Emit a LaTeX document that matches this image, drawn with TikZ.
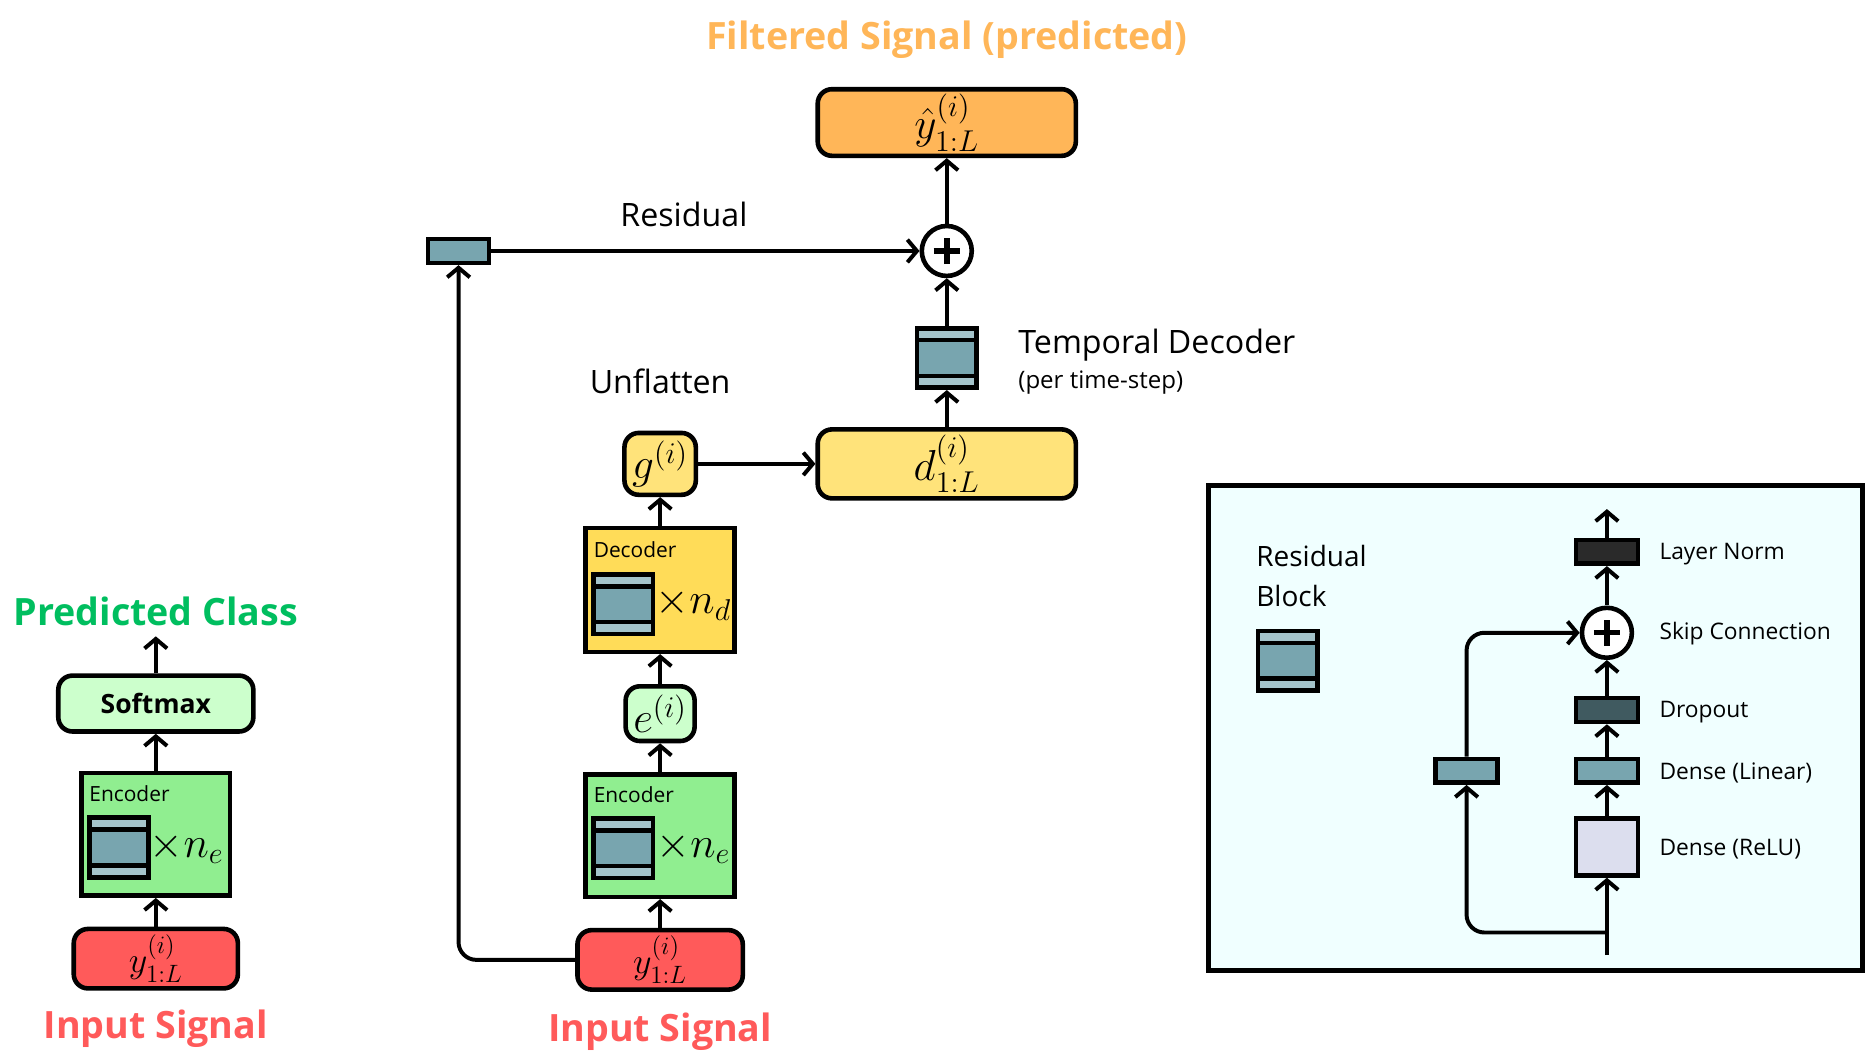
\documentclass[tikz,border=0pt]{standalone}
\usepackage{amsmath}
\usepackage{fontspec}
\setmainfont{Open Sans}
\usetikzlibrary{arrows.meta}
\definecolor{clsgreen}{RGB}{0,190,95}
\definecolor{inred}{RGB}{255,90,90}
\definecolor{filtorange}{RGB}{255,182,88}
\definecolor{softgreen}{RGB}{204,255,204}
\definecolor{encgreen}{RGB}{144,238,144}
\definecolor{decgold}{RGB}{255,220,88}
\definecolor{dyellow}{RGB}{255,227,122}
\definecolor{tealc}{RGB}{120,165,175}
\definecolor{tealL}{RGB}{165,196,203}
\definecolor{dropc}{RGB}{64,90,96}
\definecolor{lnc}{RGB}{42,42,42}
\definecolor{reluc}{RGB}{220,222,238}
\definecolor{panelc}{RGB}{240,255,255}

\begin{document}
\begin{tikzpicture}[x=0.2mm,y=-0.2mm,
  box/.style={draw,line width=2.2pt,inner sep=0pt},
  sig/.style={box,rounded corners=2.4mm},
  layer/.style={box,minimum width=10.4mm,minimum height=4mm},
  arr/.style={line width=1.9pt,-{Straight Barb[length=1.6mm,width=3.8mm]}},
  title/.style={font=\fontsize{18}{22}\selectfont\bfseries},
  lbl/.style={font=\fontsize{15.4}{18}\selectfont},
  tag/.style={font=\fontsize{10}{12}\selectfont},
  plbl/.style={font=\fontsize{10.9}{13}\selectfont},
  mth/.style={font=\fontsize{20.74}{24}\selectfont},
  mthin/.style={font=\fontsize{17.28}{21}\selectfont},
  resnode/.style={box,fill=tealc,minimum width=10mm,minimum height=10mm,
    path picture={
      \fill[tealL] (path picture bounding box.north west) rectangle ([yshift=-2mm]path picture bounding box.north east);
      \fill[tealL] (path picture bounding box.south west) rectangle ([yshift=2mm]path picture bounding box.south east);
      \draw[line width=2.2pt] ([yshift=-2mm]path picture bounding box.north west) -- ([yshift=-2mm]path picture bounding box.north east);
      \draw[line width=2.2pt] ([yshift=2mm]path picture bounding box.south west) -- ([yshift=2mm]path picture bounding box.south east);
    }},
  plusnode/.style={draw,circle,line width=2.2pt,fill=white,minimum size=8.4mm,inner sep=0pt,
    path picture={
      \draw[line width=2.6pt] ([xshift=-2.2mm]path picture bounding box.center) -- ([xshift=2.2mm]path picture bounding box.center)
        ([yshift=-2.2mm]path picture bounding box.center) -- ([yshift=2.2mm]path picture bounding box.center);
    }}]
\useasboundingbox (0,0) rectangle (1568,893);

% Residual block legend panel
\node[box,fill=panelc,minimum width=110mm,minimum height=81.6mm] (panel) at (1291,612) {};

% Classifier branch
\node[title,text=clsgreen] (predl) at (131,514) {Predicted Class};
\coordinate (outl) at (131,535);
\node[sig,fill=softgreen,minimum width=32.8mm,minimum height=9.4mm,font=\fontsize{12.7}{16}\selectfont\bfseries] (soft) at (131,591.5) {Softmax};
\node[box,fill=encgreen,minimum width=25mm,minimum height=20.6mm] (encl) at (131,701.5) {};
\node[tag,anchor=west] (encllbl) at (69,667) {Encoder};
\node[resnode] (encli) at (100,712.5) {};
\node[mth] (enclx) at (157,713) {$\times n_e$};
\node[sig,fill=inred,minimum width=27.6mm,minimum height=10mm,mthin] (inl) at (131,806) {$y^{(i)}_{1:L}$};
\node[title,text=inred] (inltxt) at (131,865) {Input Signal};

\draw[arr] (inl) -- (encl);
\draw[arr] (encl) -- (soft);
\draw[arr] (soft) -- (outl);

% Filtering branch
\node[title,text=filtorange] (filt) at (796,33) {Filtered Signal (predicted)};
\node[sig,fill=filtorange,minimum width=43.4mm,minimum height=11.2mm,mth] (yhat) at (796,103) {$\hat{y}^{(i)}_{1:L}$};
\node[plusnode] (add) at (796,211) {};
\node[resnode] (tdec) at (796,301) {};
\node[lbl,anchor=west] (tdeclbl) at (850,290) {Temporal Decoder};
\node[font=\fontsize{11.5}{14}\selectfont,anchor=west] (tdecsub) at (850,322) {(per time-step)};
\node[sig,fill=dyellow,minimum width=43.4mm,minimum height=11.6mm,mth] (d) at (796,390) {$d^{(i)}_{1:L}$};
\node[sig,fill=dyellow,minimum width=12mm,minimum height=10.4mm,mth] (g) at (555,390) {$g^{(i)}$};
\node[lbl] (unfl) at (555,321) {Unflatten};
\node[box,fill=decgold,minimum width=25mm,minimum height=20.8mm] (dec) at (555,496) {};
\node[tag,anchor=west] (declbl) at (493,462) {Decoder};
\node[resnode] (deci) at (524,508) {};
\node[mth] (decx) at (583,508) {$\times n_d$};
\node[sig,fill=softgreen,minimum width=11.6mm,minimum height=9.2mm,mth] (e) at (555,600) {$e^{(i)}$};
\node[box,fill=encgreen,minimum width=25mm,minimum height=20.6mm] (encm) at (555,702.5) {};
\node[tag,anchor=west] (encmlbl) at (493,668) {Encoder};
\node[resnode] (encmi) at (524,713) {};
\node[mth] (encmx) at (583,713) {$\times n_e$};
\node[sig,fill=inred,minimum width=27.8mm,minimum height=10mm,mthin] (inm) at (555,807) {$y^{(i)}_{1:L}$};
\node[title,text=inred] (inmtxt) at (555,867) {Input Signal};
\node[box,fill=tealc,minimum width=10.2mm,minimum height=4mm] (res) at (385.5,211) {};
\node[lbl] (reslbl) at (575,180) {Residual};

\draw[arr] (inm) -- (encm);
\draw[arr] (encm) -- (e);
\draw[arr] (e) -- (dec);
\draw[arr] (dec) -- (g);
\draw[arr] (g) -- (d);
\draw[arr] (d) -- (tdec);
\draw[arr] (tdec) -- (add);
\draw[arr] (add) -- (yhat);
\draw[arr] (res) -- (add);
\draw[arr,rounded corners=3mm] (inm.west) -| (res.south);

% Residual block detail
\node[font=\fontsize{13.4}{19}\selectfont,align=left,anchor=west] (rbt) at (1050,484) {Residual\\Block};
\node[resnode] (legend) at (1082.5,555.5) {};
\node[layer,fill=lnc] (ln) at (1351,464) {};
\node[plusnode] (skip) at (1351,532) {};
\node[layer,fill=dropc] (drop) at (1351,597) {};
\node[layer,fill=tealc] (lin) at (1351,648) {};
\node[box,fill=reluc,minimum width=10.4mm,minimum height=9.6mm] (relu) at (1351,712) {};
\node[layer,fill=tealc] (side) at (1233,648) {};
\coordinate (rin) at (1351,803);
\coordinate (split) at (1351,784);
\coordinate (rout) at (1351,428);
\node[plbl,anchor=west] (lnlbl) at (1389,466) {Layer Norm};
\node[plbl,anchor=west] (skiplbl) at (1389,533) {Skip Connection};
\node[plbl,anchor=west] (droplbl) at (1389,599) {Dropout};
\node[plbl,anchor=west] (linlbl) at (1389,650) {Dense (Linear)};
\node[plbl,anchor=west] (relulbl) at (1389,714) {Dense (ReLU)};

\draw[arr] (rin) -- (relu);
\draw[arr] (relu) -- (lin);
\draw[arr] (lin) -- (drop);
\draw[arr] (drop) -- (skip);
\draw[arr] (skip) -- (ln);
\draw[arr] (ln) -- (rout);
\draw[arr,rounded corners=3mm] (split) -| (side.south);
\draw[arr,rounded corners=3mm] (side.north) |- (skip.west);
\end{tikzpicture}
\end{document}
